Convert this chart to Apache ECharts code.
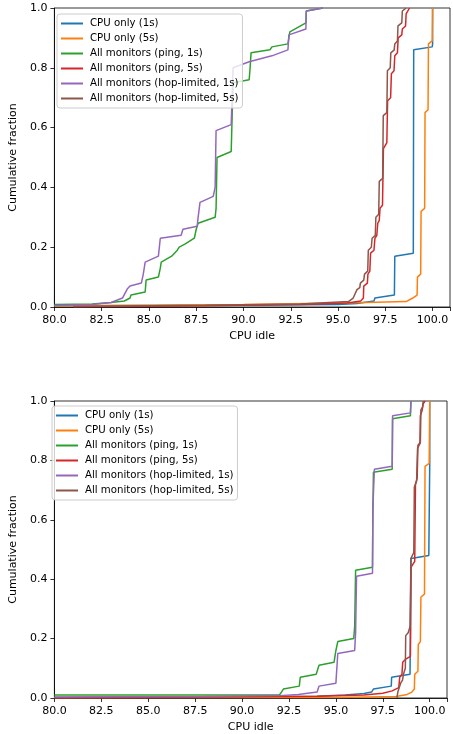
<!DOCTYPE html>
<html>
<head>
<meta charset="utf-8">
<script src="https://cdn.jsdelivr.net/npm/echarts@6/dist/echarts.min.js"></script>
<style>
  html, body { margin: 0; padding: 0; background: #fff; }
  #chart { width: 453px; height: 734px; }
</style>
</head>
<body>
<div id="chart"></div>
<script>
// legend names, same order in both panels
const seriesNames = [
  'CPU only (1s)',
  'CPU only (5s)',
  'All monitors (ping, 1s)',
  'All monitors (ping, 5s)',
  'All monitors (hop-limited, 1s)',
  'All monitors (hop-limited, 5s)'
];
const colors = ['#1f77b4', '#ff7f0e', '#2ca02c', '#d62728', '#9467bd', '#8c564b'];
const xTicks = [80.0, 82.5, 85.0, 87.5, 90.0, 92.5, 95.0, 97.5, 100.0];
const yTicks = [0.0, 0.2, 0.4, 0.6, 0.8, 1.0];

// ---- top panel: [cpu idle, cumulative fraction] ----
const topCpu1 = [[80,0.004],[90,0.006],[95,0.008],[96,0.012],[96.9,0.02],[96.95,0.03],[97.98,0.04],[98.0,0.17],[98.98,0.18],[99.0,0.86],[99.98,0.87],[100,0.88],[100,1.0]];
const topCpu5 = [[80,0.003],[90,0.008],[95,0.013],[97,0.016],[98.6,0.018],[98.95,0.03],[99.18,0.04],[99.2,0.10],[99.37,0.11],[99.39,0.32],[99.58,0.33],[99.6,0.65],[99.76,0.66],[99.78,0.88],[99.98,0.89],[100,1.0]];
const topPing1 = [[80,0.008],[82,0.01],[83,0.015],[83.7,0.02],[84.0,0.03],[84.05,0.04],[84.8,0.05],[84.85,0.09],[85.5,0.10],[85.6,0.13],[85.65,0.15],[86.2,0.17],[86.5,0.19],[86.6,0.2],[86.9,0.21],[87.4,0.23],[87.5,0.26],[87.6,0.28],[88.5,0.3],[88.55,0.33],[88.6,0.5],[89.35,0.52],[89.4,0.64],[89.45,0.75],[90.3,0.76],[90.35,0.8],[90.4,0.85],[91.4,0.86],[91.5,0.87],[92.35,0.88],[92.45,0.92],[93.3,0.95],[93.32,0.99],[94.2,1.0]];
const topPing5 = [[81,0.001],[88,0.004],[93,0.008],[95.5,0.013],[96.2,0.02],[96.34,0.03],[96.36,0.07],[96.55,0.08],[96.58,0.11],[96.68,0.12],[96.72,0.18],[96.9,0.19],[96.95,0.23],[97.05,0.24],[97.1,0.28],[97.18,0.29],[97.22,0.33],[97.35,0.34],[97.4,0.53],[97.58,0.55],[97.62,0.69],[97.78,0.70],[97.82,0.78],[97.96,0.79],[98.0,0.84],[98.14,0.85],[98.18,0.90],[98.37,0.91],[98.4,0.93],[98.57,0.94],[98.6,0.98],[98.78,1.0]];
const topHop1 = [[80,0.005],[82,0.008],[83,0.015],[83.6,0.03],[83.85,0.06],[84.0,0.07],[84.6,0.08],[84.7,0.11],[84.8,0.15],[85.5,0.17],[85.6,0.23],[86.7,0.24],[86.8,0.26],[87.55,0.27],[87.6,0.30],[87.7,0.35],[88.4,0.37],[88.5,0.40],[88.55,0.59],[89.35,0.61],[89.45,0.80],[90.3,0.82],[91.5,0.84],[92.35,0.86],[92.4,0.91],[93.3,0.93],[93.32,0.99],[94.2,1.0]];
const topHop5 = [[81,0.002],[88,0.006],[93,0.01],[95.55,0.018],[95.8,0.03],[96.0,0.058],[96.15,0.065],[96.18,0.08],[96.36,0.09],[96.4,0.11],[96.57,0.12],[96.6,0.19],[96.76,0.2],[96.8,0.23],[96.97,0.24],[97.0,0.30],[97.15,0.31],[97.18,0.42],[97.36,0.43],[97.39,0.64],[97.58,0.65],[97.61,0.79],[97.76,0.80],[97.79,0.85],[97.97,0.86],[98.0,0.88],[98.14,0.89],[98.17,0.94],[98.37,0.95],[98.4,0.99],[98.6,1.0]];

// ---- bottom panel ----
const botCpu1 = [[80,0.002],[90,0.004],[94,0.006],[95.5,0.01],[96.5,0.015],[96.9,0.02],[97.0,0.03],[97.95,0.04],[97.97,0.07],[98.95,0.08],[98.97,0.22],[99.0,0.47],[99.95,0.48],[100,0.79],[100,1.0]];
const botCpu5 = [[80,0.001],[95,0.002],[98.2,0.005],[98.8,0.012],[99.05,0.02],[99.18,0.03],[99.2,0.08],[99.37,0.09],[99.39,0.18],[99.5,0.19],[99.53,0.34],[99.72,0.35],[99.75,0.78],[99.97,0.79],[100,1.0]];
const botPing1 = [[80,0.01],[90,0.01],[92.0,0.011],[92.1,0.02],[92.2,0.03],[93.05,0.04],[93.1,0.07],[93.95,0.08],[94.05,0.1],[94.1,0.11],[94.9,0.12],[95.0,0.16],[95.1,0.19],[95.95,0.2],[96.0,0.24],[96.05,0.43],[96.95,0.44],[96.97,0.62],[97.0,0.76],[98.0,0.77],[98.02,0.94],[98.97,0.95],[99.0,1.0]];
const botPing5 = [[80,0.001],[88,0.003],[94,0.006],[96.5,0.01],[97.5,0.016],[98.0,0.024],[98.35,0.035],[98.4,0.07],[98.52,0.08],[98.56,0.12],[98.7,0.13],[98.97,0.14],[99.0,0.44],[99.2,0.46],[99.24,0.72],[99.33,0.74],[99.37,0.85],[99.48,0.86],[99.5,0.95],[99.6,0.97],[99.65,0.99],[99.75,1.0]];
const botHop1 = [[80,0.003],[88,0.005],[92,0.008],[93,0.012],[94.0,0.02],[94.1,0.04],[95.0,0.05],[95.1,0.15],[96.0,0.16],[96.05,0.22],[96.1,0.41],[96.95,0.42],[96.97,0.64],[97.05,0.77],[98.0,0.78],[98.02,0.95],[98.97,0.96],[99.0,1.0]];
const botHop5 = [[98.25,0.0],[98.3,0.02],[98.45,0.05],[98.55,0.06],[98.6,0.08],[98.7,0.10],[98.72,0.21],[98.85,0.22],[98.95,0.24],[99.0,0.47],[99.15,0.49],[99.18,0.71],[99.3,0.73],[99.35,0.84],[99.5,0.86],[99.53,0.97],[99.62,0.98],[99.65,1.0]];

const topData = [topCpu1, topCpu5, topPing1, topPing5, topHop1, topHop5];
const botData = [botCpu1, botCpu5, botPing1, botPing5, botHop1, botHop5];

const FONT = 'DejaVu Sans';

function xAxisFor(gridIndex) {
  return {
    type: 'value', gridIndex: gridIndex,
    min: 80, max: 100.92, interval: 2.5,
    name: 'CPU idle', nameLocation: 'middle', nameGap: 24,
    nameTextStyle: { fontFamily: FONT, fontSize: 11, color: '#000' },
    axisLine: { lineStyle: { color: '#000', width: 0.8 } },
    axisTick: { length: 4, lineStyle: { color: '#000', width: 0.8 } },
    axisLabel: {
      margin: 8, fontFamily: FONT, fontSize: 11, color: '#000',
      formatter: v => (xTicks.some(t => Math.abs(t - v) < 1e-6) ? v.toFixed(1) : '')
    },
    splitLine: { show: false }
  };
}

function yAxisFor(gridIndex, gap) {
  return {
    type: 'value', gridIndex: gridIndex,
    min: 0, max: 1, interval: 0.2,
    name: 'Cumulative fraction', nameLocation: 'middle', nameGap: gap,
    nameTextStyle: { fontFamily: FONT, fontSize: 11, color: '#000' },
    axisLine: { show: true, lineStyle: { color: '#000', width: 0.8 } },
    axisTick: { show: true, length: 4, lineStyle: { color: '#000', width: 0.8 } },
    axisLabel: {
      margin: 7, fontFamily: FONT, fontSize: 11, color: '#000',
      formatter: v => (yTicks.some(t => Math.abs(t - v) < 1e-6) ? v.toFixed(1) : '')
    },
    splitLine: { show: false }
  };
}

function legendFor(left, top) {
  return {
    orient: 'vertical', left: left, top: top,
    data: seriesNames.map(n => ({ name: n, icon: 'rect' })),
    itemWidth: 22, itemHeight: 2, itemGap: 2,
    padding: [3, 4, 3, 4],
    backgroundColor: 'rgba(255,255,255,0.8)',
    borderColor: '#cccccc', borderWidth: 1, borderRadius: 3,
    textStyle: { fontFamily: FONT, fontSize: 10.2, color: '#000', lineHeight: 13, padding: [0, 0, 0, 2] }
  };
}

const series = [];
[topData, botData].forEach((set, gi) => {
  set.forEach((d, i) => {
    series.push({
      name: seriesNames[i], type: 'line',
      xAxisIndex: gi, yAxisIndex: gi,
      data: d, showSymbol: false, symbol: 'none',
      lineStyle: { color: colors[i], width: 1.5 },
      itemStyle: { color: colors[i] },
      clip: true, animation: false
    });
  });
});

const chart = echarts.init(document.getElementById('chart'), null, { renderer: 'canvas' });
chart.setOption({
  animation: false,
  grid: [
    { left: 52, top: 8, width: 400, height: 299, show: true, borderColor: '#000', borderWidth: 0.8, backgroundColor: 'transparent' },
    { left: 47, top: 401, width: 400, height: 298, show: true, borderColor: '#000', borderWidth: 0.8, backgroundColor: 'transparent' }
  ],
  xAxis: [xAxisFor(0), xAxisFor(1)],
  yAxis: [yAxisFor(0, 28), yAxisFor(1, 31)],
  legend: [legendFor(57, 14), legendFor(52, 406)],
  series: series
});
</script>
</body>
</html>
